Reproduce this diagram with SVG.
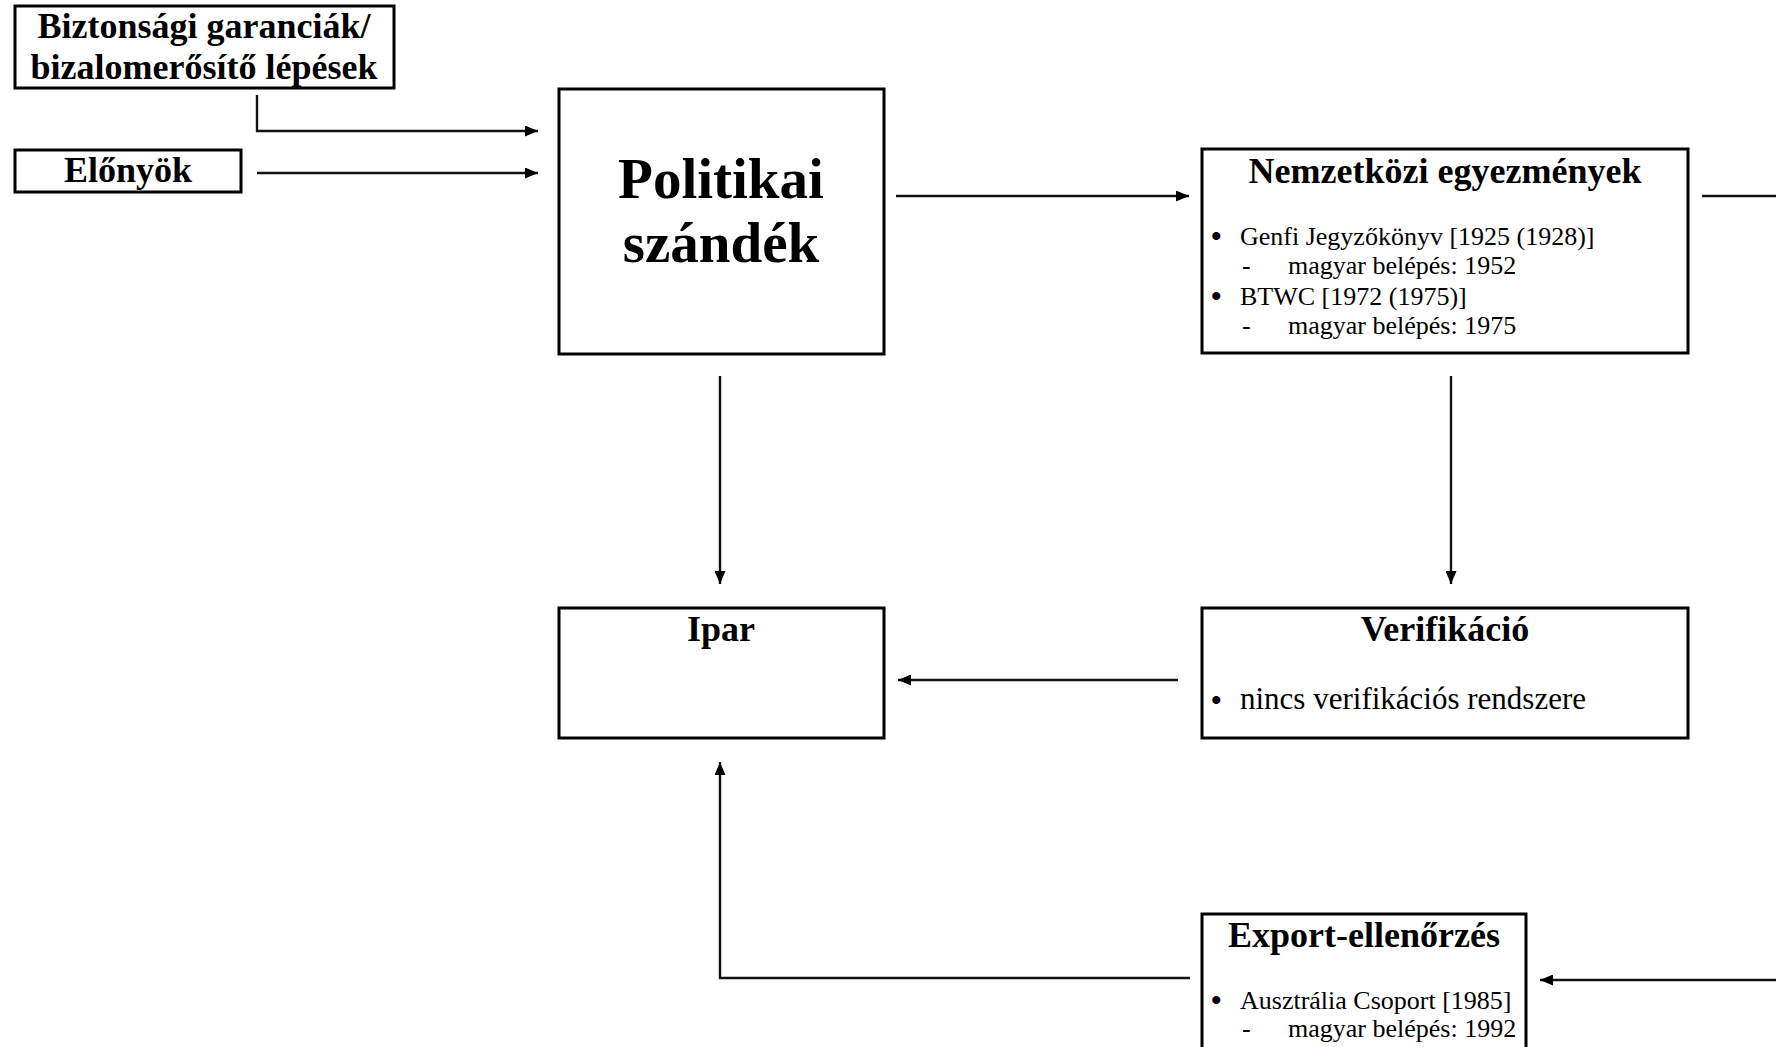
<svg xmlns="http://www.w3.org/2000/svg" width="1776" height="1047" viewBox="0 0 1776 1047">
<style>
.box{fill:#fff;stroke:#000;stroke-width:3}
.t{font-family:"Liberation Serif","Times New Roman",serif;fill:#000}
.ttl{font-size:36px;font-weight:bold;text-anchor:middle}
.big{font-size:57px;font-weight:bold;text-anchor:middle}
.s{font-size:26px}
.m{font-size:31px}
.dot{font-size:30px;font-weight:bold}
.c{fill:none;stroke:#111;stroke-width:2.4}
</style>
<defs>
<marker id="ah" markerUnits="userSpaceOnUse" markerWidth="13" markerHeight="11" refX="13" refY="5.5" orient="auto">
<path d="M0,0 L13,5.5 L0,11 z" fill="#000"/>
</marker>
</defs>
<rect width="1776" height="1047" fill="#fff"/>
<g id="connectors">
<path class="c" d="M257,95 V131 H538" marker-end="url(#ah)"/>
<path class="c" d="M257,173 H538" marker-end="url(#ah)"/>
<path class="c" d="M896,196 H1189" marker-end="url(#ah)"/>
<path class="c" d="M1702,196 H1776"/>
<path class="c" d="M720,376 V584" marker-end="url(#ah)"/>
<path class="c" d="M1451,376 V584" marker-end="url(#ah)"/>
<path class="c" d="M1178,680 H898" marker-end="url(#ah)"/>
<path class="c" d="M1190,978 H720 V762" marker-end="url(#ah)"/>
<path class="c" d="M1776,980 H1540" marker-end="url(#ah)"/>
</g>
<g id="node-biztonsagi">
<rect class="box" x="15" y="6" width="379" height="82"/>
<text class="t ttl" x="204" y="38">Biztonsági garanciák/</text>
<text class="t ttl" x="204" y="79">bizalomerősítő lépések</text>
</g>
<g id="node-elonyok">
<rect class="box" x="15" y="150" width="226" height="42"/>
<text class="t ttl" x="128" y="182">Előnyök</text>
</g>
<g id="node-politikai">
<rect class="box" x="559" y="89" width="325" height="265"/>
<text class="t big" x="721" y="198">Politikai</text>
<text class="t big" x="721" y="262">szándék</text>
</g>
<g id="node-nemzetkozi">
<rect class="box" x="1202" y="149" width="486" height="204"/>
<text class="t ttl" x="1445" y="183">Nemzetközi egyezmények</text>
<text class="t dot" x="1211" y="246">•</text>
<text class="t s" x="1240" y="245">Genfi Jegyzőkönyv [1925 (1928)]</text>
<text class="t s" x="1242" y="274">-</text>
<text class="t s" x="1288" y="274">magyar belépés: 1952</text>
<text class="t dot" x="1211" y="306">•</text>
<text class="t s" x="1240" y="305">BTWC [1972 (1975)]</text>
<text class="t s" x="1242" y="334">-</text>
<text class="t s" x="1288" y="334">magyar belépés: 1975</text>
</g>
<g id="node-ipar">
<rect class="box" x="559" y="608" width="325" height="130"/>
<text class="t ttl" x="721" y="641">Ipar</text>
</g>
<g id="node-verifikacio">
<rect class="box" x="1202" y="608" width="486" height="130"/>
<text class="t ttl" x="1445" y="641">Verifikáció</text>
<text class="t dot" x="1211" y="710">•</text>
<text class="t m" x="1240" y="709">nincs verifikációs rendszere</text>
</g>
<g id="node-export">
<rect class="box" x="1202" y="914" width="324" height="150"/>
<text class="t ttl" x="1364" y="947">Export-ellenőrzés</text>
<text class="t dot" x="1211" y="1010">•</text>
<text class="t s" x="1240" y="1009">Ausztrália Csoport [1985]</text>
<text class="t s" x="1242" y="1037">-</text>
<text class="t s" x="1288" y="1037">magyar belépés: 1992</text>
</g>
</svg>
